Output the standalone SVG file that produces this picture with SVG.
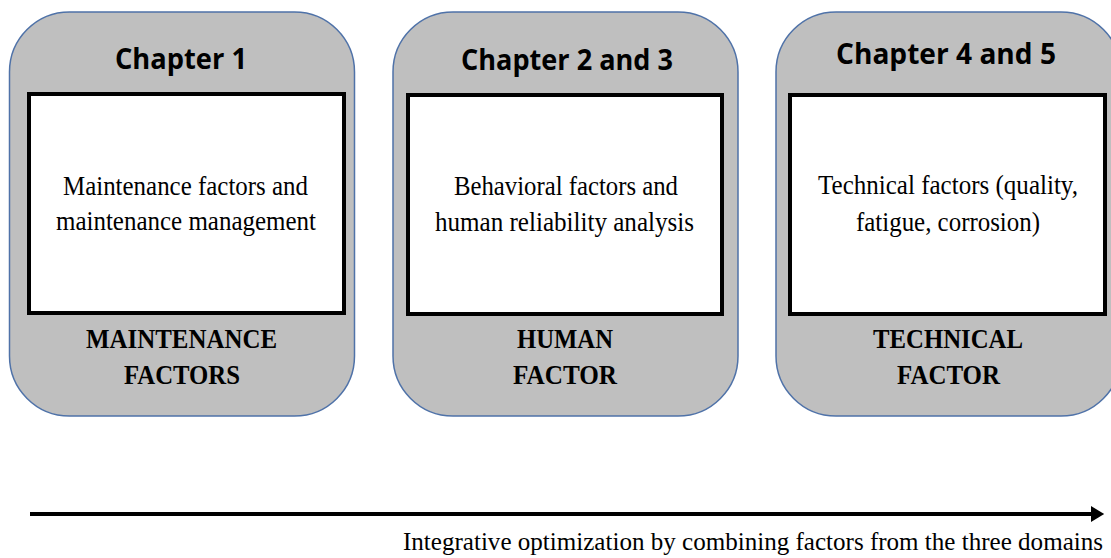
<svg xmlns="http://www.w3.org/2000/svg" width="1111" height="558" viewBox="0 0 1111 558">
<defs>
<style>
.outer{fill:#bfbfbf;stroke:#4f72a8;stroke-width:1.5}
.inner{fill:#ffffff;stroke:#000000;stroke-width:4}
.head{font-family:"Open Sans","Noto Sans",sans-serif;font-weight:700;font-size:29px;fill:#000;text-anchor:middle}
.body{font-family:"Liberation Serif","Times New Roman",serif;font-size:27px;fill:#000;text-anchor:middle}
.lab{font-family:"Liberation Serif","Times New Roman",serif;font-weight:700;font-size:27px;fill:#000;text-anchor:middle}
.cap{font-family:"Liberation Serif","Times New Roman",serif;font-size:25px;fill:#000}
</style>
<marker id="ah" markerWidth="4" markerHeight="4" refX="0" refY="2" orient="auto" markerUnits="strokeWidth"><path d="M0,0 L3.3,2 L0,4 Z" fill="#000"/></marker>
</defs>
<rect width="1111" height="558" fill="#ffffff"/>
<g id="node-chapter1">
<rect class="outer" x="9.5" y="12" width="345" height="404" rx="60" ry="60"/>
<text class="head" x="181" y="69" textLength="132" lengthAdjust="spacingAndGlyphs">Chapter 1</text>
<rect class="inner" x="29" y="94" width="315" height="219"/>
<text class="body" x="185.5" y="195" textLength="245" lengthAdjust="spacingAndGlyphs">Maintenance factors and</text>
<text class="body" x="186" y="230" textLength="260" lengthAdjust="spacingAndGlyphs">maintenance management</text>
<text class="lab" x="181.5" y="348" textLength="191" lengthAdjust="spacingAndGlyphs">MAINTENANCE</text>
<text class="lab" x="182" y="384" textLength="116" lengthAdjust="spacingAndGlyphs">FACTORS</text>
</g>
<g id="node-chapter23">
<rect class="outer" x="393" y="12" width="345" height="404" rx="60" ry="60"/>
<text class="head" x="567" y="70" textLength="212" lengthAdjust="spacingAndGlyphs">Chapter 2 and 3</text>
<rect class="inner" x="408" y="95" width="314" height="219"/>
<text class="body" x="566" y="195" textLength="224" lengthAdjust="spacingAndGlyphs">Behavioral factors and</text>
<text class="body" x="564.5" y="231" textLength="259" lengthAdjust="spacingAndGlyphs">human reliability analysis</text>
<text class="lab" x="565" y="348" textLength="96" lengthAdjust="spacingAndGlyphs">HUMAN</text>
<text class="lab" x="565" y="384" textLength="104" lengthAdjust="spacingAndGlyphs">FACTOR</text>
</g>
<g id="node-chapter45">
<rect class="outer" x="776" y="12" width="345" height="404" rx="60" ry="60"/>
<text class="head" x="946" y="64" textLength="220" lengthAdjust="spacingAndGlyphs">Chapter 4 and 5</text>
<rect class="inner" x="790" y="95" width="315" height="219"/>
<text class="body" x="948" y="194" textLength="260" lengthAdjust="spacingAndGlyphs">Technical factors (quality,</text>
<text class="body" x="948" y="231" textLength="184" lengthAdjust="spacingAndGlyphs">fatigue, corrosion)</text>
<text class="lab" x="948" y="348" textLength="150" lengthAdjust="spacingAndGlyphs">TECHNICAL</text>
<text class="lab" x="948.5" y="384" textLength="103" lengthAdjust="spacingAndGlyphs">FACTOR</text>
</g>
<g id="connectors">
<line x1="30" y1="514" x2="1091" y2="514" stroke="#000" stroke-width="4" marker-end="url(#ah)"/>
</g>
<g id="caption">
<text class="cap" x="403" y="550" textLength="700" lengthAdjust="spacingAndGlyphs">Integrative optimization by combining factors from the three domains</text>
</g>
</svg>
